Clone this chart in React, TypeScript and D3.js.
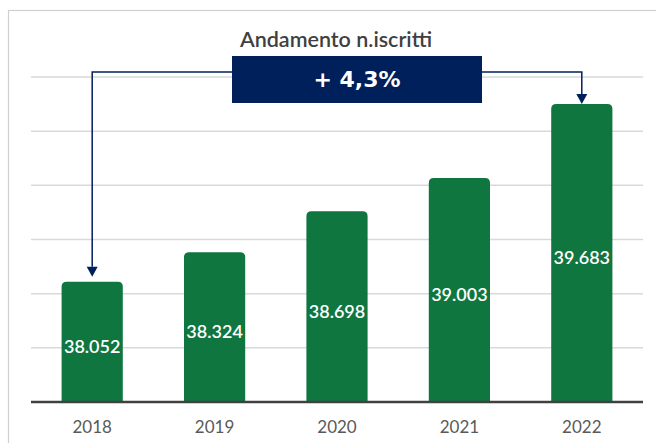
import React from "react";
import * as d3 from "d3";

const categories = ["2018", "2019", "2020", "2021", "2022"];
const values = [38052, 38324, 38698, 39003, 39683];
const labels = ["38.052", "38.324", "38.698", "39.003", "39.683"];
const title = "Andamento n.iscritti";
const changeLabel = "+ 4,3%";
const yDomain = [36950, 39930];
const gridCount = 6;

const W = 656;
const H = 443;

export default function App() {
  const left = 31, right = 643, top = 77, bottom = 402;
  const x = d3.scaleBand().domain(categories).range([left, right]).paddingInner(0.5).paddingOuter(0.25);
  const y = d3.scaleLinear().domain(yDomain).range([bottom, top]);
  const gridVals = d3.range(1, gridCount + 1).map((i) => yDomain[0] + ((yDomain[1] - yDomain[0]) * i) / gridCount);
  const bw = x.bandwidth();
  const r = 5;
  const barPath = (c: string, v: number) => {
    const x0 = x(c)!;
    const y0 = y(v);
    const x1 = x0 + bw;
    return `M${x0},${bottom} L${x0},${y0 + r} Q${x0},${y0} ${x0 + r},${y0} L${x1 - r},${y0} Q${x1},${y0} ${x1},${y0 + r} L${x1},${bottom} Z`;
  };
  const navy = "#00205b";
  const firstX = x(categories[0])! + bw / 2;
  const lastX = x(categories[categories.length - 1])! + bw / 2;
  const firstTop = y(values[0]);
  const lastTop = y(values[values.length - 1]);
  const lineY = 72;
  const box = { x0: 232, x1: 482, y0: 56, y1: 103 };
  const ah = 10;
  const aw = 5.5;
  const font = "Lato, 'Open Sans', sans-serif";
  return (
    <svg width={W} height={H} style={{ position: "absolute", left: 0, top: 0 }} fontFamily={font}>
      <rect x={0} y={0} width={W} height={H} fill="#fff" />
      <rect x={8.5} y={10.5} width={W + 10} height={H + 10} fill="none" stroke="#d0d0d0" strokeWidth={1.2} />
      <text x={336} y={39} textAnchor="middle" dominantBaseline="central" fontSize={21.5} fontWeight={600} fill="#404040">
        {title}
      </text>
      {gridVals.map((g, i) => (
        <line key={i} x1={left} x2={right} y1={y(g)} y2={y(g)} stroke="#d9d9d9" strokeWidth={1.5} />
      ))}
      {categories.map((c, i) => (
        <path key={c} d={barPath(c, values[i])} fill="#0f7640" />
      ))}
      <line x1={left} x2={right} y1={bottom} y2={bottom} stroke="#404040" strokeWidth={2.5} />
      {categories.map((c, i) => (
        <text
          key={c}
          x={x(c)! + bw / 2}
          y={(y(values[i]) + bottom) / 2 + 4}
          textAnchor="middle"
          dominantBaseline="central"
          fontSize={18}
          fontWeight={600}
          fill="#fff"
        >
          {labels[i]}
        </text>
      ))}
      {categories.map((c) => (
        <text key={c} x={x(c)! + bw / 2} y={426} textAnchor="middle" dominantBaseline="central" fontSize={17} fill="#595959">
          {c}
        </text>
      ))}
      <path
        d={`M${firstX},${firstTop - 5 - ah} L${firstX},${lineY} L${lastX},${lineY} L${lastX},${lastTop - ah}`}
        fill="none"
        stroke={navy}
        strokeWidth={1.5}
      />
      <path d={`M${firstX - aw},${firstTop - 5 - ah} L${firstX + aw},${firstTop - 5 - ah} L${firstX},${firstTop - 5} Z`} fill={navy} />
      <path d={`M${lastX - aw},${lastTop - ah} L${lastX + aw},${lastTop - ah} L${lastX},${lastTop} Z`} fill={navy} />
      <rect x={box.x0} y={box.y0} width={box.x1 - box.x0} height={box.y1 - box.y0} fill={navy} />
      <text
        x={(box.x0 + box.x1) / 2}
        y={(box.y0 + box.y1) / 2}
        textAnchor="middle"
        dominantBaseline="central"
        fontSize={22}
        fontWeight={700}
        fill="#fff"
        fontFamily="'DejaVu Sans', Verdana, sans-serif"
      >
        {changeLabel}
      </text>
    </svg>
  );
}
